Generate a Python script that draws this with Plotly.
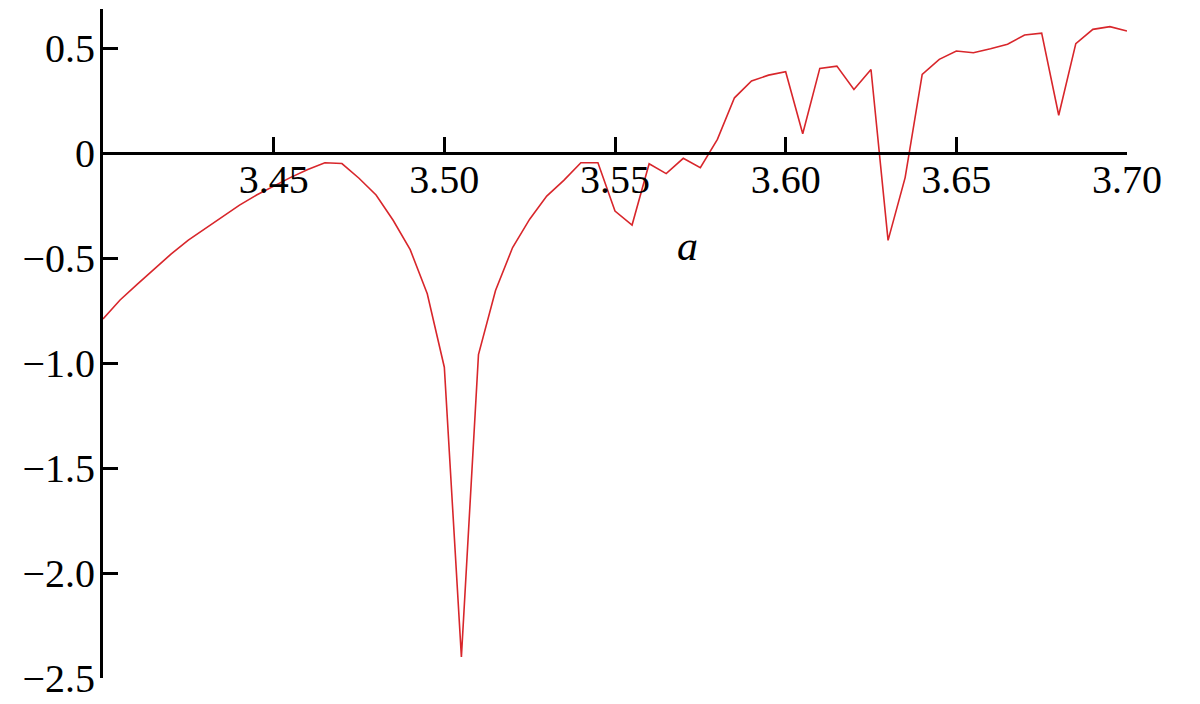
import numpy as np
import plotly.graph_objects as go

# parametre a (pas de 0.005)
a_vals = [3.400, 3.405, 3.410, 3.415, 3.420, 3.425, 3.430, 3.435, 3.440, 3.445,
          3.450, 3.455, 3.460, 3.465, 3.470, 3.475, 3.480, 3.485, 3.490, 3.495,
          3.500, 3.505, 3.510, 3.515, 3.520, 3.525, 3.530, 3.535, 3.540, 3.545,
          3.550, 3.555, 3.560, 3.565, 3.570, 3.575, 3.580, 3.585, 3.590, 3.595,
          3.600, 3.605, 3.610, 3.615, 3.620, 3.625, 3.630, 3.635, 3.640, 3.645,
          3.650, 3.655, 3.660, 3.665, 3.670, 3.675, 3.680, 3.685, 3.690, 3.695,
          3.700]

# valeurs
lyap = [-0.790, -0.700, -0.625, -0.553, -0.480, -0.415, -0.358, -0.302, -0.248, -0.200,
        -0.157, -0.116, -0.078, -0.046, -0.050, -0.120, -0.200, -0.320, -0.460, -0.670,
        -1.020, -2.400, -0.960, -0.655, -0.450, -0.315, -0.205, -0.130, -0.046, -0.046,
        -0.276, -0.343, -0.051, -0.098, -0.025, -0.070, 0.065, 0.263, 0.343, 0.371,
        0.387, 0.092, 0.403, 0.414, 0.303, 0.398, -0.416, -0.117, 0.375, 0.446,
        0.486, 0.478, 0.497, 0.518, 0.562, 0.571, 0.180, 0.521, 0.589, 0.602,
        0.581]

x_ticks = [3.45, 3.50, 3.55, 3.60, 3.65, 3.70]
x_labels = ["3.45", "3.50", "3.55", "3.60", "3.65", "3.70"]
y_ticks = [0.5, 0, -0.5, -1.0, -1.5, -2.0, -2.5]
y_labels = ["0.5", "0", "\u22120.5", "\u22121.0", "\u22121.5", "\u22122.0", "\u22122.5"]

x_range = [3.40, 3.70]
y_range = [-2.5, 0.686]
y_zero = (0 - y_range[0]) / (y_range[1] - y_range[0])  # position de l'axe des a

police = dict(family="'Liberation Serif', 'Times New Roman', serif", size=40, color="black")

fig = go.Figure(go.Scatter(
    x=a_vals, y=lyap, mode="lines",
    line=dict(color="#d8262b", width=1.6),
    showlegend=False
))

# la page a une marge de 8px, d'ou les marges decalees
fig.update_layout(
    width=1200, height=704,
    margin=dict(l=95, r=81, t=1, b=34),
    plot_bgcolor="white", paper_bgcolor="white",
    font=police,
    xaxis=dict(range=x_range, tickvals=x_ticks, ticktext=x_labels,
               anchor="free", position=y_zero,
               showline=True, linecolor="black", linewidth=3,
               ticks="inside", ticklen=15, tickwidth=3, tickcolor="black",
               ticklabelstandoff=-10,
               showgrid=False, zeroline=False, tickfont=police),
    yaxis=dict(range=y_range, tickvals=y_ticks, ticktext=y_labels,
               showline=True, linecolor="black", linewidth=3,
               ticks="inside", ticklen=15, tickwidth=3, tickcolor="black",
               ticklabelstandoff=-3,
               showgrid=False, zeroline=False, tickfont=police),
    annotations=[dict(x=3.5713, y=-0.443, xref="x", yref="y", text="<i>a</i>",
                      showarrow=False,
                      font=dict(family="'Liberation Serif', 'Times New Roman', serif", size=42, color="black"))]
)

fig.write_html("out.html")
